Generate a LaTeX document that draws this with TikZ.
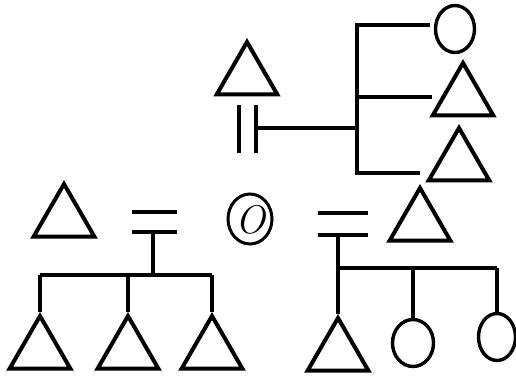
\documentclass[tikz,border=0pt]{standalone}
\usetikzlibrary{shapes.geometric}
\begin{document}
\begin{tikzpicture}[x=1pt,y=-1pt,
  male/.style={draw,regular polygon,regular polygon sides=3,minimum size=70pt,inner sep=0pt,line width=4pt,line join=miter},
  female/.style={draw,ellipse,inner sep=0pt,minimum width=39pt,minimum height=47pt,line width=3.4pt},
  ln/.style={line width=3.6pt}]
\useasboundingbox (0,0) rectangle (516,379);
% top family
\node[male] (tA) at (247,77) {};
\node[female] (c1) at (455,29) {};
\node[male] (t2) at (463,98) {};
\node[male] (t3) at (459,163) {};
\coordinate (d1t) at (239,105); \coordinate (d1b) at (239,153);
\coordinate (d2t) at (256,105); \coordinate (d2b) at (256,153);
\coordinate (dm) at (256,128);
\coordinate (vt) at (357,25); \coordinate (vm) at (357,128);
\coordinate (vq) at (357,97); \coordinate (vb) at (357,173);
\coordinate (e1) at (430,25); \coordinate (e2) at (432,97); \coordinate (e3) at (420,173);
\draw[ln] (d1t) -- (d1b);
\draw[ln] (d2t) -- (d2b);
\draw[ln] (dm) -- (vm);
\draw[ln] (e1) -- (vt) -- (vb) -- (e3);
\draw[ln] (vq) -- (e2);
% bottom left family
\node[male] (tL) at (64,219) {};
\coordinate (q1a) at (132,212); \coordinate (q1b) at (177,212);
\coordinate (q2a) at (132,232); \coordinate (q2b) at (177,232);
\coordinate (s1) at (153,232); \coordinate (s2) at (153,275);
\coordinate (h1) at (40,275); \coordinate (h2) at (128,275); \coordinate (h3) at (212,275);
\node[male] (b1) at (40,351) {};
\node[male] (b2) at (128,351) {};
\node[male] (b3) at (212,351) {};
\draw[ln] (q1a) -- (q1b);
\draw[ln] (q2a) -- (q2b);
\draw[ln] (s1) -- (s2);
\draw[ln] (h1) -- (h3);
\draw[ln] (h1) -- (b1.corner 1);
\draw[ln] (h2) -- (b2.corner 1);
\draw[ln] (h3) -- (b3.corner 1);
% ego
\node[draw,ellipse,inner sep=0pt,minimum width=44pt,minimum height=50pt,line width=3pt] (ego) at (250,219) {};
\node[font=\fontsize{40}{40}\selectfont\itshape] (egot) at (250,220) {O};
% bottom right family
\node[male] (tR) at (420,223) {};
\coordinate (r1a) at (318,213); \coordinate (r1b) at (368,213);
\coordinate (r2a) at (318,235); \coordinate (r2b) at (368,235);
\coordinate (rs) at (338,235);
\coordinate (k1) at (338,268); \coordinate (k2) at (413,268); \coordinate (k3) at (497,268);
\node[male] (b4) at (338,353) {};
\node[female,minimum width=41pt] (c2) at (413,343) {};
\node[female,minimum width=37pt] (c3) at (497,337) {};
\draw[ln] (r1a) -- (r1b);
\draw[ln] (r2a) -- (r2b);
\draw[ln] (rs) -- (b4.corner 1);
\draw[ln] (k1) -- (k3);
\draw[ln] (k2) -- (c2.north);
\draw[ln] (k3) -- (c3.north);
\end{tikzpicture}
\end{document}
